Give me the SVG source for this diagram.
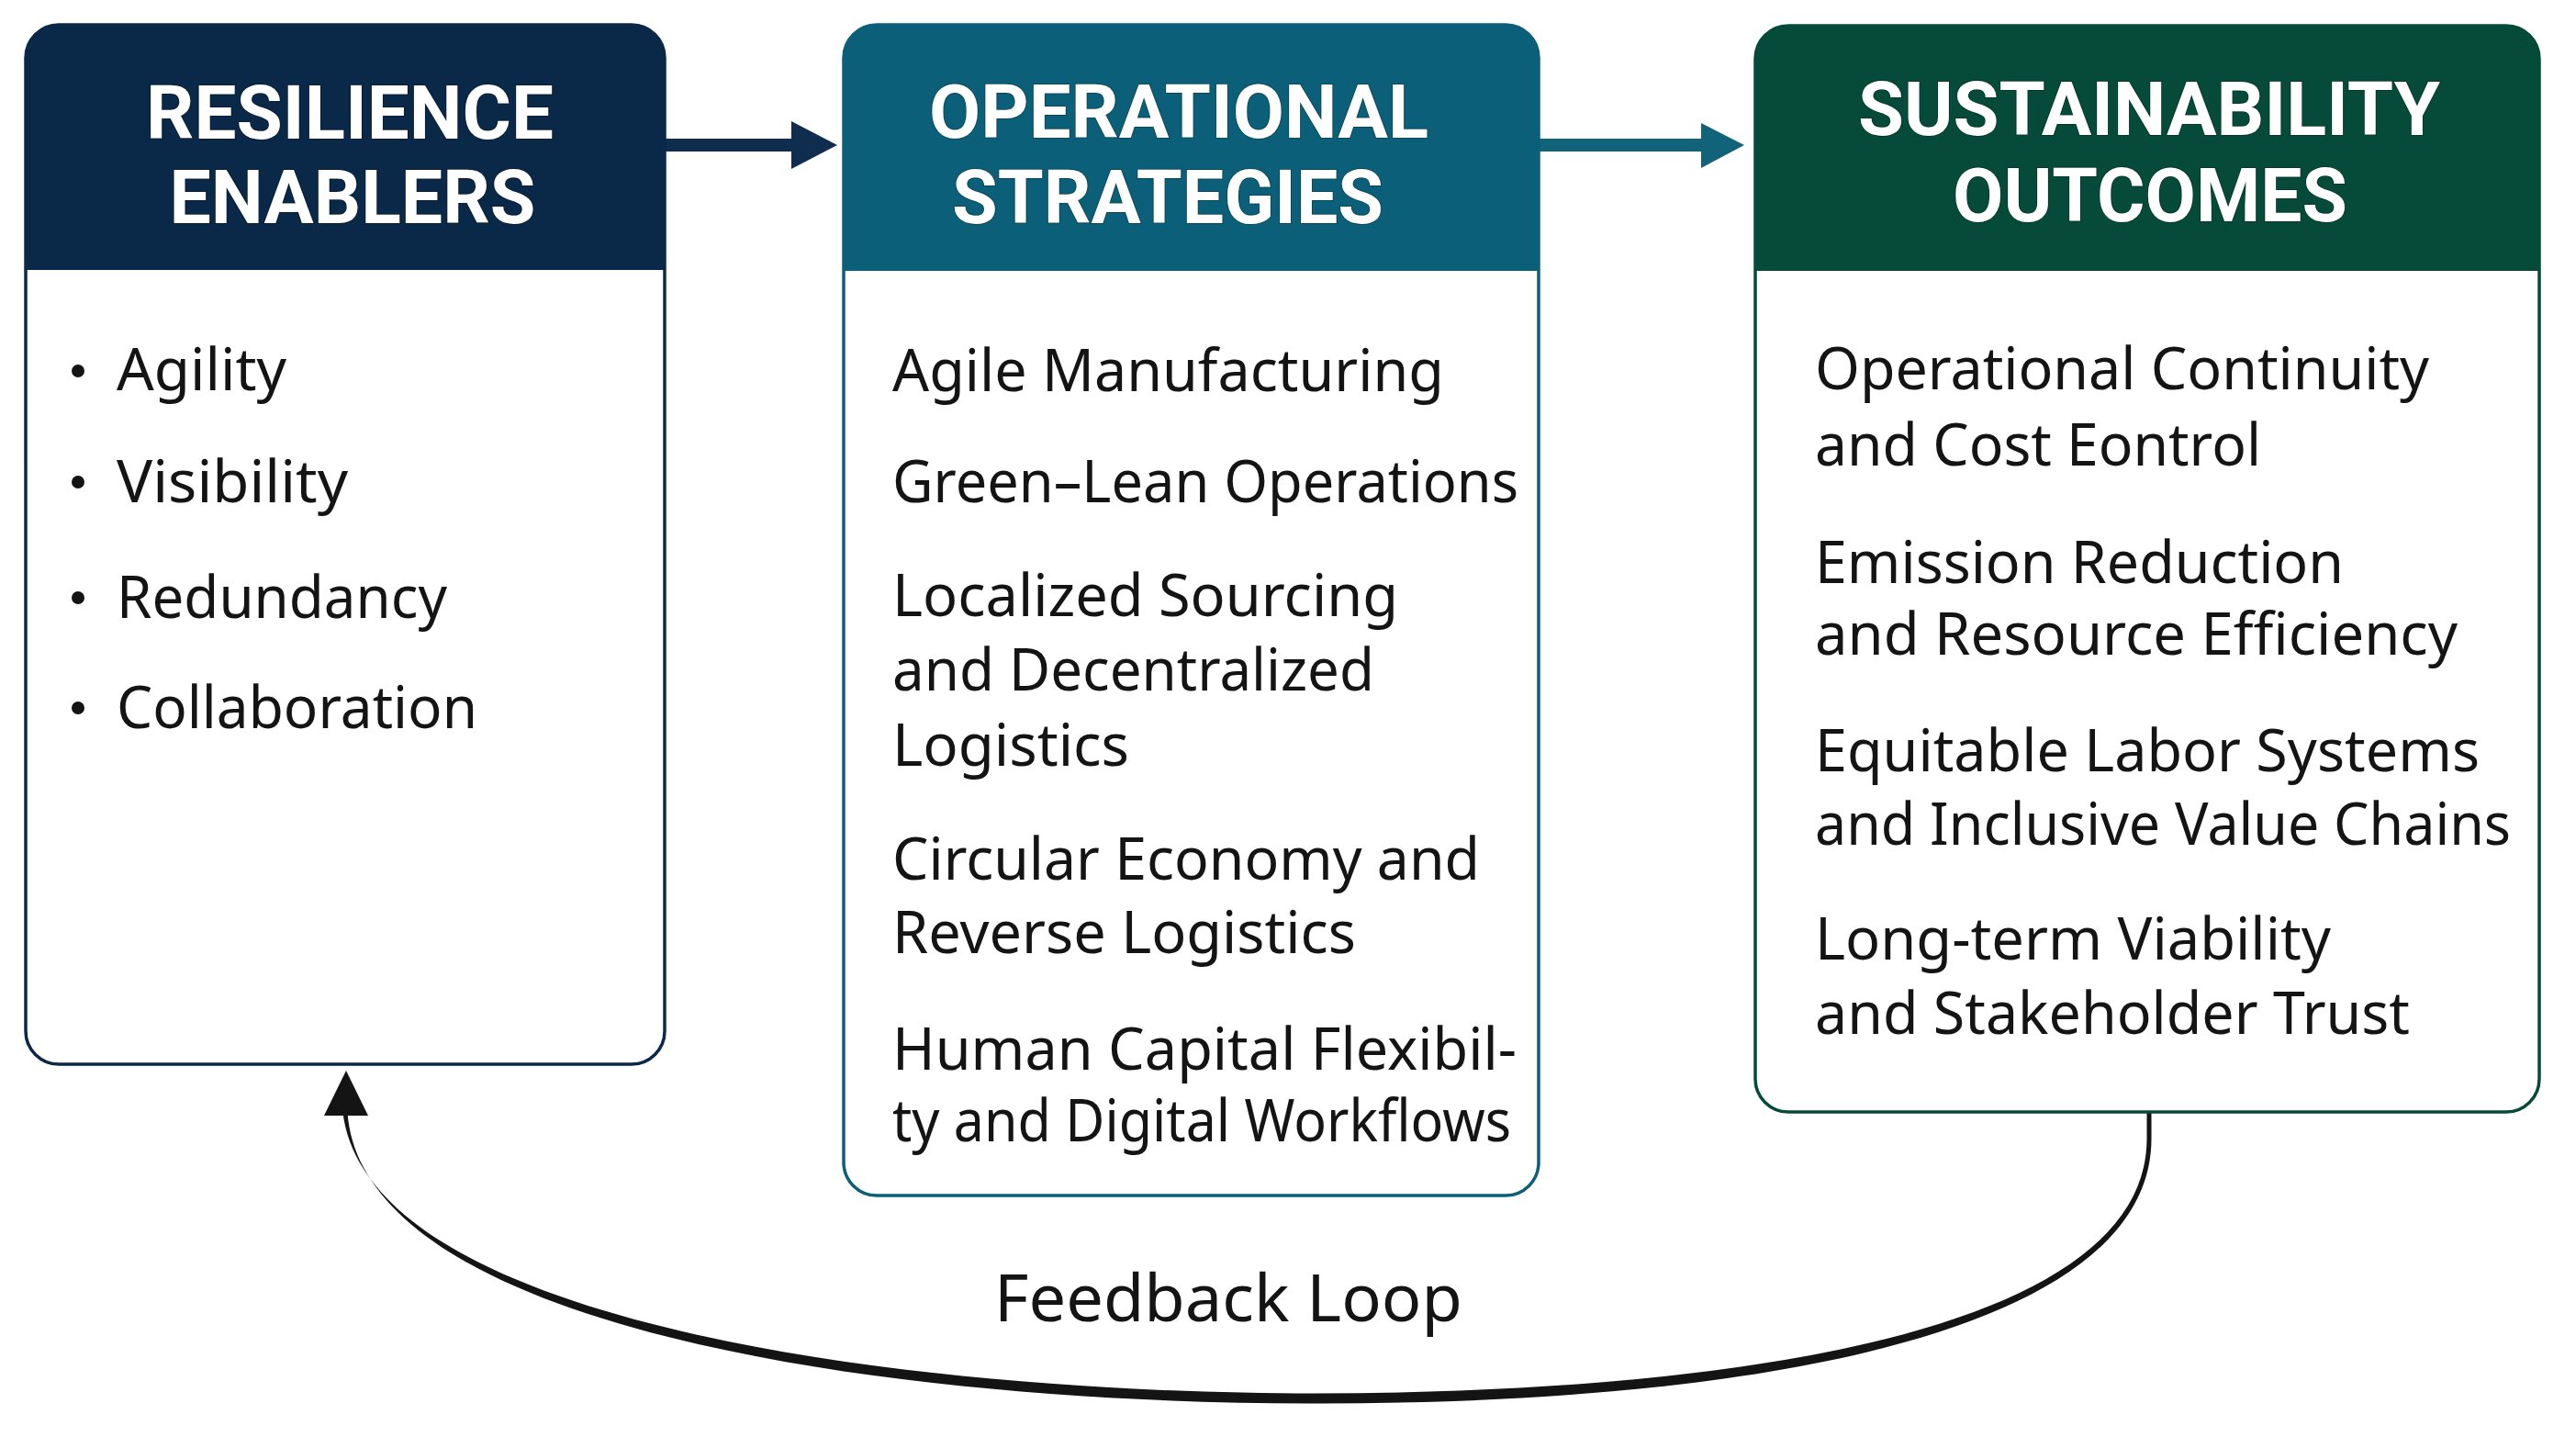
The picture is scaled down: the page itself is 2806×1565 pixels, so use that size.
<svg xmlns="http://www.w3.org/2000/svg" width="2806" height="1565" viewBox="0 0 2806 1565">
<style>
.frame{fill:#ffffff;stroke-width:3.5}
.hdr{font-family:Roboto,"Liberation Sans",sans-serif;font-weight:700;font-size:82px;fill:#ffffff;text-anchor:middle;stroke:#00000040;stroke-width:2;paint-order:stroke}
.body{font-family:"Noto Sans","Liberation Sans",sans-serif;font-size:63px;fill:#141414}
.lbl{font-family:"Noto Sans","Liberation Sans",sans-serif;font-size:72px;fill:#141414;text-anchor:middle}
</style>
<rect width="2806" height="1565" fill="#ffffff"/>

<g id="connectors">
  <path id="arrow-enablers-strategies" d="M724 151 H862 V132 L912 158 L862 184 V165 H724 Z" fill="#0f2d4f"/>
  <path id="arrow-strategies-outcomes" d="M1676 151 H1853 V134 L1900 158 L1853 183 V165 H1676 Z" fill="#11637a"/>
  <g id="feedback-loop">
    <path d="M2343.5 1211 L2343.5 1240 C2343.5 1455 1900 1529 1432 1528.5 C1000 1529 397 1455 378.5 1212 L373.5 1212 C403 1445 1000 1517 1432 1517.5 C1900 1517 2338.5 1448 2338.5 1240 L2338.5 1211 Z" fill="#141414"/>
    <path d="M377 1166 L401 1215 L353 1215 Z" fill="#141414"/>
    <text class="lbl" x="1338" y="1439" textLength="510" lengthAdjust="spacingAndGlyphs">Feedback Loop</text>
  </g>
</g>

<g id="node-resilience-enablers">
  <rect class="frame" x="28" y="27" width="696" height="1132" rx="36" stroke="#0a2847"/>
  <path d="M28 294 V63 A36 36 0 0 1 64 27 H688 A36 36 0 0 1 724 63 V294 Z" fill="#0a2847"/>
  <text class="hdr" x="381" y="151" textLength="444" lengthAdjust="spacingAndGlyphs">RESILIENCE</text>
  <text class="hdr" x="384" y="243" textLength="399" lengthAdjust="spacingAndGlyphs">ENABLERS</text>
  <g fill="#141414">
    <circle cx="85" cy="404" r="7"/>
    <circle cx="85" cy="525" r="7"/>
    <circle cx="85" cy="651" r="7"/>
    <circle cx="85" cy="771" r="7"/>
  </g>
  <text class="body" x="127" y="425" textLength="185" lengthAdjust="spacingAndGlyphs">Agility</text>
  <text class="body" x="127" y="547" textLength="252" lengthAdjust="spacingAndGlyphs">Visibility</text>
  <text class="body" x="127" y="673" textLength="360" lengthAdjust="spacingAndGlyphs">Redundancy</text>
  <text class="body" x="127" y="793" textLength="393" lengthAdjust="spacingAndGlyphs">Collaboration</text>
</g>

<g id="node-operational-strategies">
  <rect class="frame" x="919" y="27" width="757" height="1275" rx="36" stroke="#0b5f78"/>
  <path d="M919 295 V63 A36 36 0 0 1 955 27 H1640 A36 36 0 0 1 1676 63 V295 Z" fill="#0b5f78"/>
  <text class="hdr" x="1284" y="150" textLength="544" lengthAdjust="spacingAndGlyphs">OPERATIONAL</text>
  <text class="hdr" x="1272" y="243" textLength="470" lengthAdjust="spacingAndGlyphs">STRATEGIES</text>
  <text class="body" x="972" y="426" textLength="601" lengthAdjust="spacingAndGlyphs">Agile Manufacturing</text>
  <text class="body" x="972" y="547" textLength="682" lengthAdjust="spacingAndGlyphs">Green–Lean Operations</text>
  <text class="body" x="972" y="671" textLength="551" lengthAdjust="spacingAndGlyphs">Localized Sourcing</text>
  <text class="body" x="972" y="752" textLength="525" lengthAdjust="spacingAndGlyphs">and Decentralized</text>
  <text class="body" x="972" y="834" textLength="258" lengthAdjust="spacingAndGlyphs">Logistics</text>
  <text class="body" x="972" y="958" textLength="640" lengthAdjust="spacingAndGlyphs">Circular Economy and</text>
  <text class="body" x="972" y="1038" textLength="505" lengthAdjust="spacingAndGlyphs">Reverse Logistics</text>
  <text class="body" x="972" y="1165" textLength="680" lengthAdjust="spacingAndGlyphs">Human Capital Flexibil-</text>
  <text class="body" x="972" y="1243" textLength="674" lengthAdjust="spacingAndGlyphs">ty and Digital Workflows</text>
</g>

<g id="node-sustainability-outcomes">
  <rect class="frame" x="1912" y="28" width="854" height="1183" rx="36" stroke="#064b3a"/>
  <path d="M1912 295 V64 A36 36 0 0 1 1948 28 H2730 A36 36 0 0 1 2766 64 V295 Z" fill="#064b3a"/>
  <text class="hdr" x="2341" y="147" textLength="634" lengthAdjust="spacingAndGlyphs">SUSTAINABILITY</text>
  <text class="hdr" x="2342" y="241" textLength="430" lengthAdjust="spacingAndGlyphs">OUTCOMES</text>
  <text class="body" x="1977" y="424" textLength="669" lengthAdjust="spacingAndGlyphs">Operational Continuity</text>
  <text class="body" x="1977" y="507" textLength="486" lengthAdjust="spacingAndGlyphs">and Cost Eontrol</text>
  <text class="body" x="1977" y="635" textLength="576" lengthAdjust="spacingAndGlyphs">Emission Reduction</text>
  <text class="body" x="1977" y="713" textLength="700" lengthAdjust="spacingAndGlyphs">and Resource Efficiency</text>
  <text class="body" x="1977" y="840" textLength="724" lengthAdjust="spacingAndGlyphs">Equitable Labor Systems</text>
  <text class="body" x="1977" y="920" textLength="758" lengthAdjust="spacingAndGlyphs">and Inclusive Value Chains</text>
  <text class="body" x="1977" y="1045" textLength="562" lengthAdjust="spacingAndGlyphs">Long-term Viability</text>
  <text class="body" x="1977" y="1126" textLength="648" lengthAdjust="spacingAndGlyphs">and Stakeholder Trust</text>
</g>
</svg>
